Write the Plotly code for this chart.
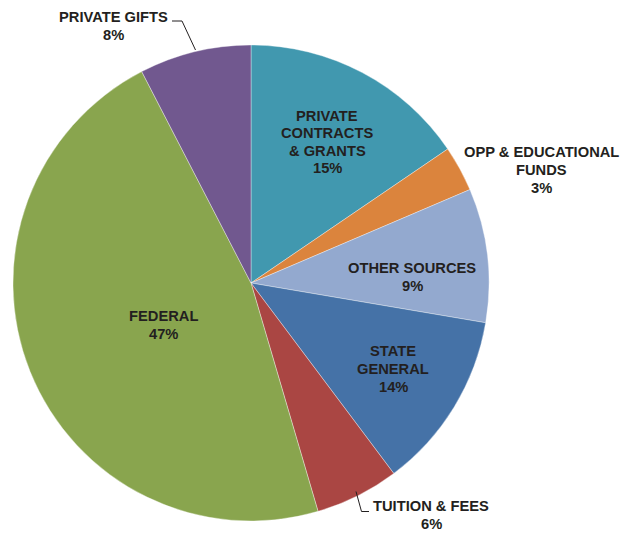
import plotly.graph_objects as go

# ---- data ----
categories = ["PRIVATE CONTRACTS & GRANTS", "OPP & EDUCATIONAL FUNDS", "OTHER SOURCES",
              "STATE GENERAL", "TUITION & FEES", "FEDERAL", "PRIVATE GIFTS"]
values = [15.5, 3.1, 9.1, 12.1, 5.7, 47.0, 7.6]
pct_labels = ["15%", "3%", "9%", "14%", "6%", "47%", "8%"]
label_lines = [["PRIVATE", "CONTRACTS", "& GRANTS"], ["OPP & EDUCATIONAL", "FUNDS"],
               ["OTHER SOURCES"], ["STATE", "GENERAL"], ["TUITION & FEES"],
               ["FEDERAL"], ["PRIVATE GIFTS"]]
colors = ["#4198AF", "#DB843D", "#93A9CF", "#4572A7", "#AA4643", "#89A54E", "#71588F"]

W, H = 624, 533
cx, cy, R = 251, 283, 238

def px(x, y):
    return x / W, 1 - y / H

fig = go.Figure(go.Pie(
    labels=categories, values=values, sort=False, direction="clockwise", rotation=0,
    marker=dict(colors=colors, line=dict(color="rgba(255,255,255,0.6)", width=0.6)),
    textinfo="none", hoverinfo="label+percent", showlegend=False,
    domain=dict(x=[(cx - R) / W, (cx + R) / W], y=[(H - cy - R) / H, (H - cy + R) / H]),
))

# label centres (pixels) and line spacing
label_pos = [(327, 142), (541, 170), (412, 277), (393, 369), (431, 515), (163, 325), (113, 26)]
LS = 17.5
anns = []
for lines, pct, (x, y) in zip(label_lines, pct_labels, label_pos):
    all_lines = lines + [pct]
    n = len(all_lines)
    for i, t in enumerate(all_lines):
        yy_px = y + (i - (n - 1) / 2) * LS
        xx, yy = px(x, yy_px)
        anns.append(dict(x=xx, y=yy, xref="paper", yref="paper", showarrow=False,
                         text=t, xanchor="center", yanchor="middle",
                         font=dict(family="Liberation Sans, Arial", size=14.7,
                                   color="#231F20", weight="bold")))

def path(points):
    pts = [px(x, y) for x, y in points]
    return "M " + " L ".join(f"{a},{b}" for a, b in pts)

shapes = [
    dict(type="path", xref="paper", yref="paper", path=path([(172, 21), (182, 21), (195.5, 50)]),
         line=dict(color="#231F20", width=1)),
    dict(type="path", xref="paper", yref="paper", path=path([(356, 491.5), (361.5, 511.5), (369, 511.5)]),
         line=dict(color="#231F20", width=1)),
]

fig.update_layout(width=W, height=H, margin=dict(l=0, r=0, t=0, b=0),
                  paper_bgcolor="white", plot_bgcolor="white",
                  annotations=anns, shapes=shapes)
fig.write_html("out.html", config={"displayModeBar": False},
               post_script="document.body.style.margin='0';document.body.style.overflow='hidden';")
